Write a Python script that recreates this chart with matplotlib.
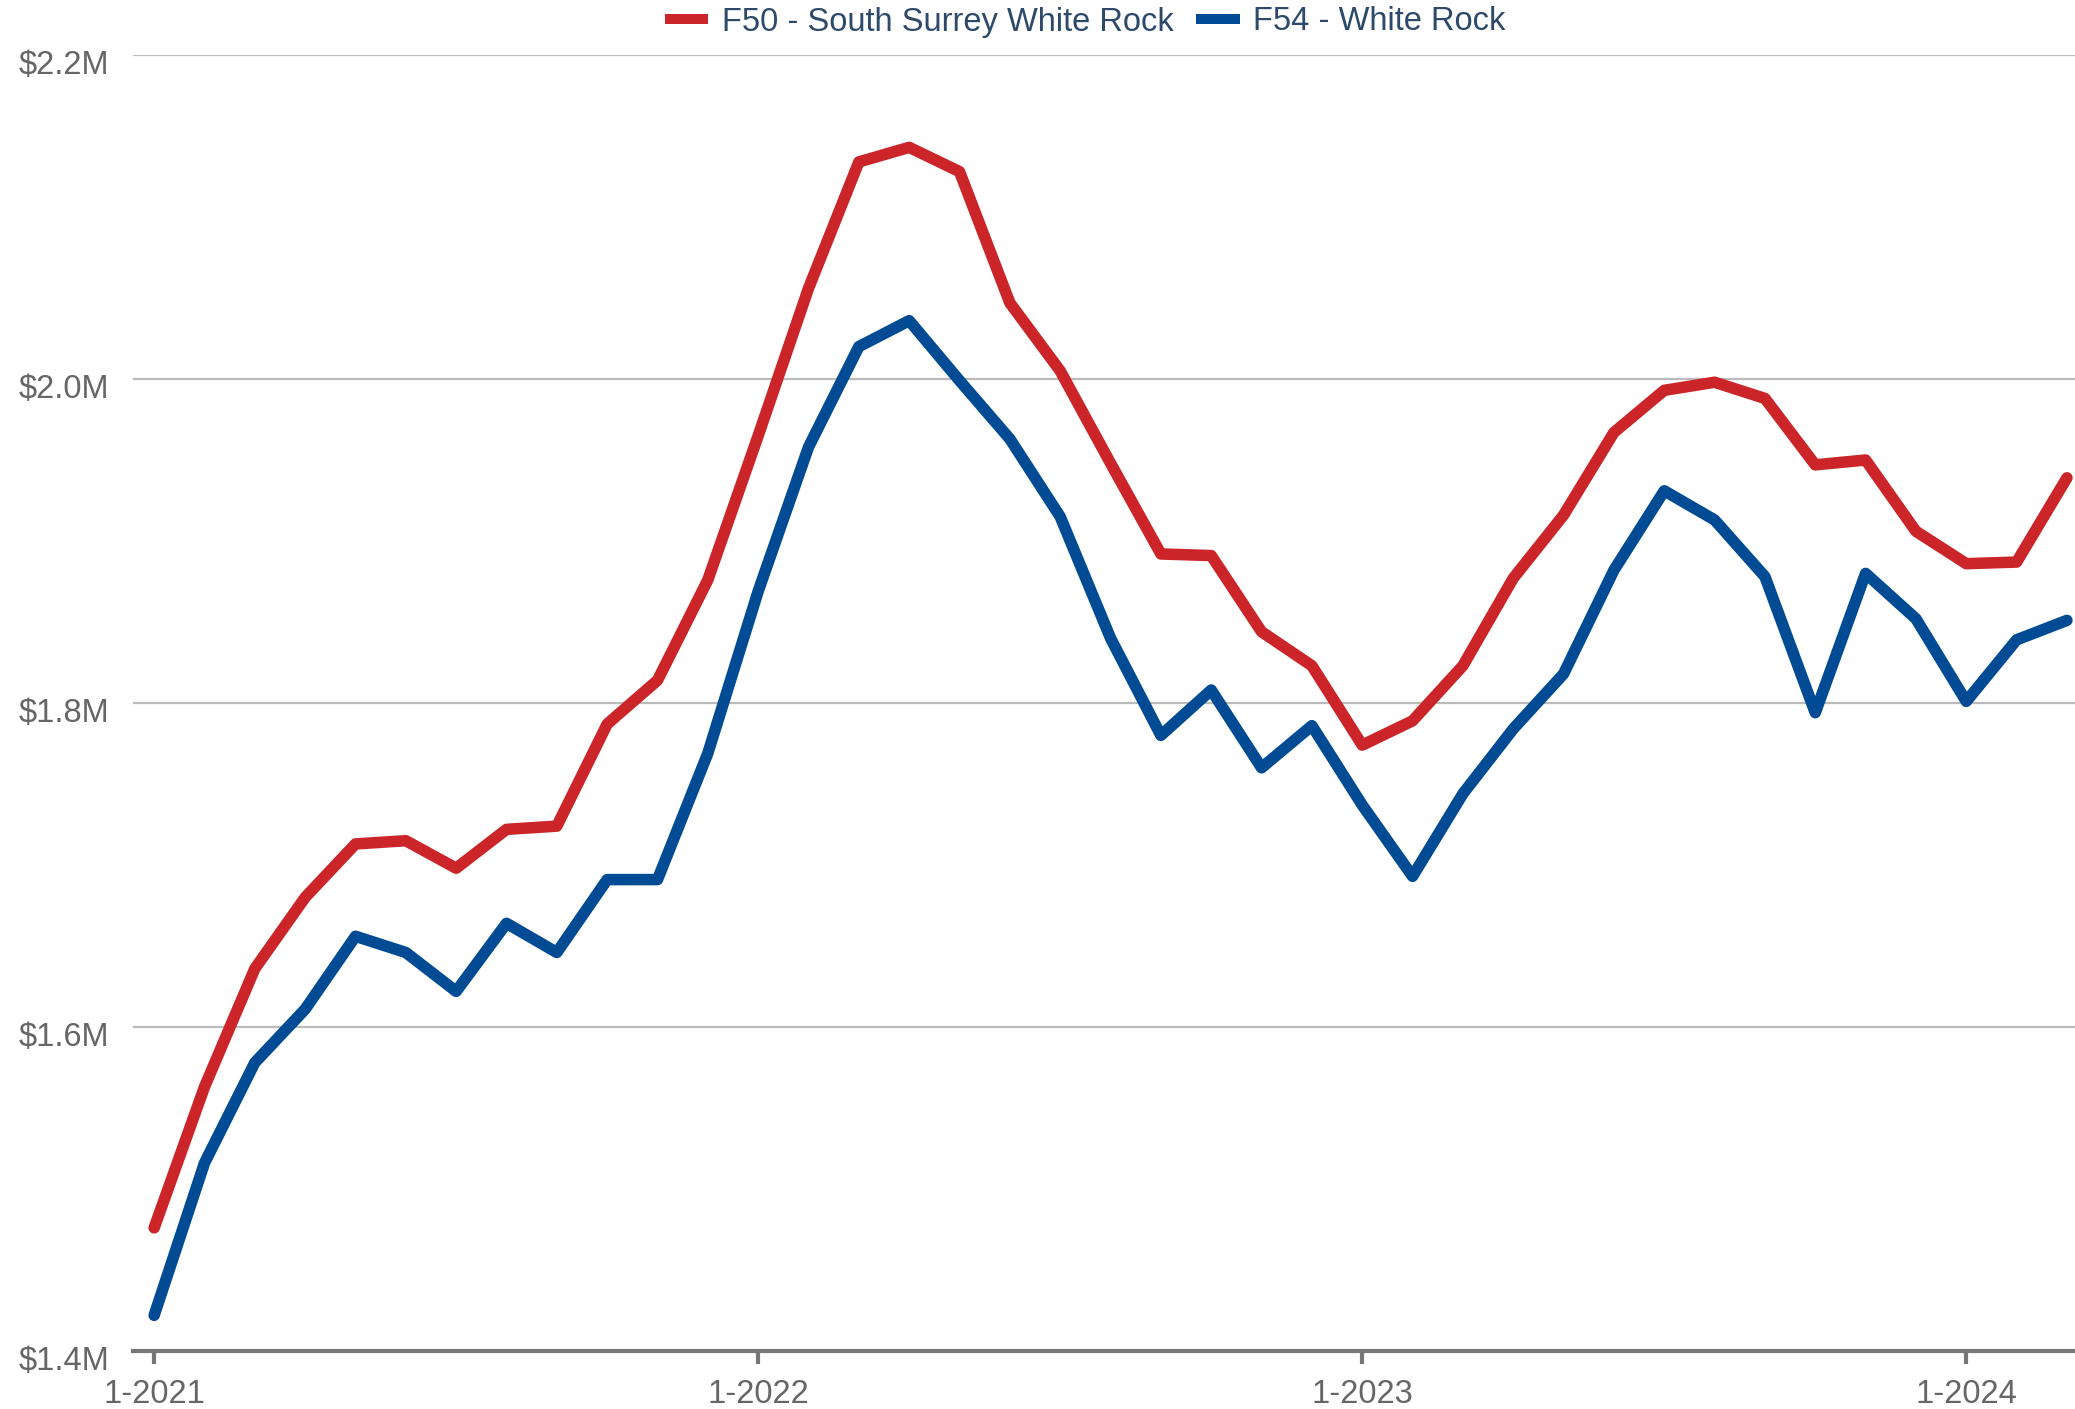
import numpy as np
import matplotlib.pyplot as plt
import matplotlib.transforms as mtransforms
from matplotlib.lines import Line2D

plt.rcParams['font.family'] = ['Liberation Sans', 'DejaVu Sans']

# monthly benchmark prices, Jan 2021 .. Mar 2024 (millions)
months = [f"{m}-{y}" for y in range(2021, 2025) for m in range(1, 13)][:39]
f50_south_surrey = [1.476, 1.563, 1.636, 1.680, 1.713, 1.715, 1.698, 1.722, 1.724, 1.787,
                    1.814, 1.876, 1.965, 2.056, 2.134, 2.143, 2.128, 2.047, 2.005, 1.948,
                    1.892, 1.891, 1.844, 1.823, 1.774, 1.789, 1.823, 1.877, 1.916, 1.967,
                    1.993, 1.998, 1.988, 1.947, 1.950, 1.906, 1.886, 1.887, 1.939]
f54_white_rock = [1.422, 1.516, 1.578, 1.611, 1.656, 1.646, 1.622, 1.664, 1.646, 1.691,
                  1.691, 1.769, 1.869, 1.958, 2.020, 2.036, 1.999, 1.963, 1.915, 1.840,
                  1.780, 1.808, 1.760, 1.786, 1.737, 1.693, 1.744, 1.784, 1.818, 1.882,
                  1.931, 1.913, 1.878, 1.794, 1.880, 1.852, 1.801, 1.839, 1.851]
series_names = ["F50 - South Surrey White Rock", "F54 - White Rock"]
series_colors = ["#cc2529", "#004b93"]
y_ticks = [1.4, 1.6, 1.8, 2.0, 2.2]

fig = plt.figure(figsize=(20.75, 14.09), dpi=100)
ax = fig.add_axes([133 / 2075, 1 - 1351 / 1409, 1 - 133 / 2075, (1351 - 55) / 1409])

x = np.arange(len(months))
for vals, col in zip([f50_south_surrey, f54_white_rock], series_colors):
    ax.plot(x, vals, color=col, lw=8.3, solid_capstyle='round', solid_joinstyle='round', zorder=3)

ax.set_xlim(-0.42, 38.16)
ax.set_ylim(1.4, 2.2)
ax.set_yticks(y_ticks)
ax.set_yticklabels([f"${v:.1f}M" for v in y_ticks])
xt = [i for i in range(len(months)) if months[i].startswith("1-")]
ax.set_xticks(xt)
ax.set_xticklabels([months[i] for i in xt])

ax.grid(axis='y', color='#bbbbbb', lw=1.6, zorder=0)
ax.grid(axis='x', visible=False)
for s in ['top', 'right', 'left']:
    ax.spines[s].set_visible(False)
ax.spines['bottom'].set_color('#777777')
ax.spines['bottom'].set_linewidth(3)
ax.spines['bottom'].set_zorder(4)
ax.tick_params(axis='y', length=0, pad=17, labelsize=23.5, labelcolor='#666666')
ax.tick_params(axis='x', length=9, width=3, color='#777777', pad=11, labelsize=23.5, labelcolor='#666666')

# y labels sit a little below their gridlines
shift = mtransforms.ScaledTranslation(0, -7 / 100, fig.dpi_scale_trans)
for lab in ax.get_yticklabels():
    lab.set_transform(lab.get_transform() + shift)

handles = [Line2D([0], [0], color=c, lw=7.2, solid_capstyle='butt') for c in series_colors]
leg = fig.legend(handles, series_names, loc='center', bbox_to_anchor=(1085 / 2075, 1 - 22 / 1409),
                 ncol=2, frameon=False, fontsize=23.5, handlelength=1.34, handletextpad=0.4,
                 columnspacing=0.7, borderaxespad=0, borderpad=0)
for t in leg.get_texts():
    t.set_color('#2d4a6b')

fig.savefig('out.png', dpi=100)
